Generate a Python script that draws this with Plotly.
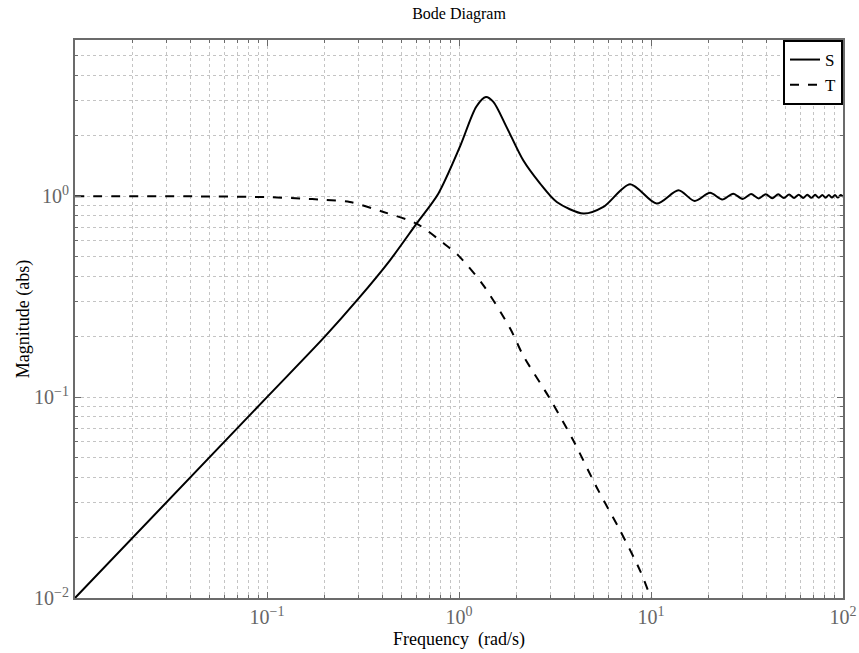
import plotly.graph_objects as go

# S (sensitivity) magnitude
s_freq = [0.01, 0.1, 0.2, 0.3, 0.437, 0.601, 0.78, 1.01, 1.23, 1.38, 1.51, 1.77, 2.16, 2.64, 3.23,
          4.45, 5.65, 7.78, 10.7, 13.9, 16.9, 20.3, 23.5, 26.8, 30.0, 33.2, 36.4, 39.6, 42.8, 46.0,
          49.2, 52.4, 55.6, 58.8, 62.0, 65.2, 68.4, 71.6, 74.8, 78.0, 81.2, 84.4, 87.6, 90.8, 94.0,
          97.2, 100.0]
s_mag = [0.01, 0.1, 0.2, 0.31, 0.48, 0.731, 1.03, 1.76, 2.79, 3.12, 2.95, 2.21, 1.51, 1.16, 0.937,
         0.82, 0.885, 1.148, 0.92, 1.07, 0.947, 1.04, 0.963, 1.03, 0.97, 1.026, 0.975, 1.024, 0.977, 1.022,
         0.979, 1.02, 0.98, 1.019, 0.981, 1.018, 0.982, 1.017, 0.983, 1.016, 0.984, 1.015, 0.985, 1.015, 0.985,
         1.014, 0.995]

# T (complementary sensitivity) magnitude
t_freq = [0.01, 0.05, 0.1, 0.15, 0.2, 0.27, 0.404, 0.601, 0.828, 0.991, 1.34, 1.85, 2.16, 2.98, 3.94,
          5.21, 6.9, 8.77, 9.89, 11.5]
t_mag = [1.0, 0.998, 0.99, 0.975, 0.96, 0.937, 0.835, 0.731, 0.585, 0.508, 0.36, 0.219, 0.161, 0.098, 0.0608,
         0.0356, 0.0217, 0.0137, 0.0103, 0.0075]

x_major = [0.1, 1, 10, 100]
x_major_text = ["10<sup>−1</sup>", "10<sup>0</sup>", "10<sup>1</sup>", "10<sup>2</sup>"]
y_major = [0.01, 0.1, 1]
y_major_text = ["10<sup>−2</sup>", "10<sup>−1</sup>", "10<sup>0</sup>"]

x_minor = [m * d for d in [0.01, 0.1, 1, 10] for m in range(2, 10)]
y_minor = [m * d for d in [0.01, 0.1, 1] for m in range(2, 10) if m * d <= 6]

FONT = "Liberation Serif, Times New Roman, serif"
GRID = "#c4c4c4"
AXC = "#6b6b6b"

fig = go.Figure()
fig.add_trace(go.Scatter(x=s_freq, y=s_mag, mode="lines", name="S",
                         line=dict(color="black", width=2, shape="spline", smoothing=0.8)))
fig.add_trace(go.Scatter(x=t_freq, y=t_mag, mode="lines", name="T",
                         line=dict(color="black", width=2, dash="dash", shape="spline", smoothing=0.8)))

axis_common = dict(showline=True, linecolor=AXC, linewidth=2, mirror="allticks",
                   ticks="inside", ticklen=6, tickcolor=AXC, tickwidth=1,
                   showgrid=True, gridcolor=GRID, griddash="dot", gridwidth=1,
                   zeroline=False, automargin=False, ticklabeloverflow="allow",
                   tickfont=dict(family=FONT, size=20, color="#666666"))

fig.update_xaxes(type="log", range=[-2, 2], tickmode="array", tickvals=x_major, ticktext=x_major_text,
                 minor=dict(tickmode="array", tickvals=x_minor, ticks="inside", ticklen=3,
                            tickcolor=AXC, showgrid=True, gridcolor=GRID, griddash="dot", gridwidth=1),
                 title=dict(text="Frequency  (rad/s)", font=dict(family=FONT, size=18, color="black"),
                            standoff=5),
                 **axis_common)
fig.update_yaxes(type="log", range=[-2, 0.778], tickmode="array", tickvals=y_major, ticktext=y_major_text,
                 minor=dict(tickmode="array", tickvals=y_minor, ticks="inside", ticklen=3,
                            tickcolor=AXC, showgrid=True, gridcolor=GRID, griddash="dot", gridwidth=1),
                 title=dict(text="Magnitude (abs)", font=dict(family=FONT, size=18, color="black"),
                            standoff=0),
                 **axis_common)

fig.update_layout(
    width=859, height=653,
    margin=dict(l=75, r=16, t=40, b=55, autoexpand=False),
    plot_bgcolor="white", paper_bgcolor="white",
    title=dict(text="Bode Diagram", x=0.5, xref="paper", xanchor="center", y=0.980, yanchor="middle",
               font=dict(family=FONT, size=16, color="black")),
    legend=dict(x=1, y=1, xanchor="right", yanchor="top", bgcolor="white",
                bordercolor="black", borderwidth=2,
                font=dict(family=FONT, size=17, color="black"),
                itemwidth=30, tracegroupgap=0),
    showlegend=True,
)

# remove the default page margin so the 859x653 figure fills the window exactly
fig.write_html("out.html", config={"displayModeBar": False},
               post_script="document.body.style.margin='0';document.body.style.overflow='hidden';")
